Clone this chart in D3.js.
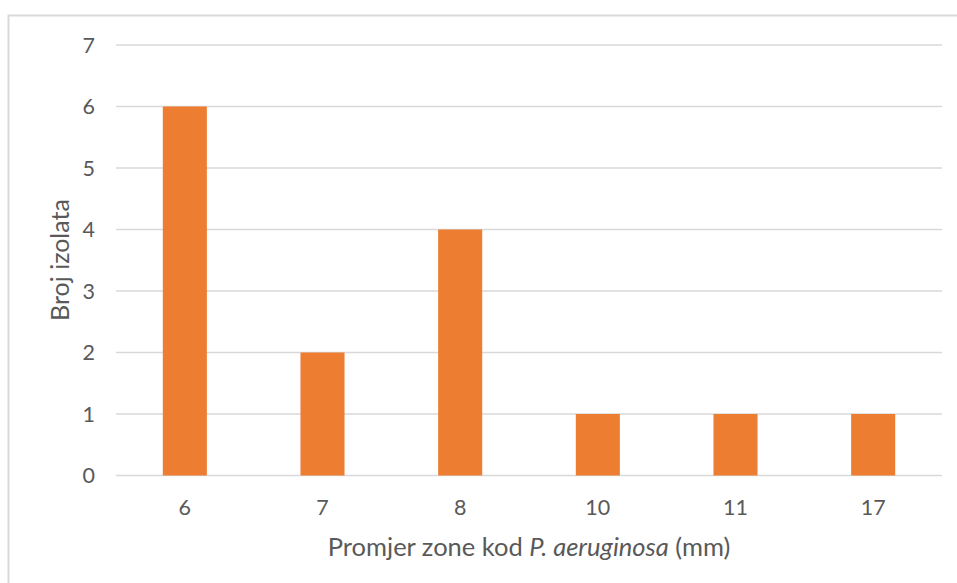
<!DOCTYPE html>
<html><head><meta charset="utf-8">
<script src="https://cdn.jsdelivr.net/npm/d3@7"></script>
<style>
body{margin:0;background:#fff;}
svg{display:block;}
text{font-family:Lato,"Open Sans","Liberation Sans",sans-serif;fill:#595959;}
</style></head>
<body>
<svg id="chart" width="957" height="583"></svg>
<script>
const categories = ["6","7","8","10","11","17"];
const values = [6,2,4,1,1,1];
const yTicks = [0,1,2,3,4,5,6,7];

const svg = d3.select("#chart");
const W = 957, H = 583;
const mLeft = 116, mRight = 942, mTop = 45, mBottom = 475.5;

// outer border (top and left visible)
svg.append("rect").attr("x",8.5).attr("y",15.5).attr("width",W+20).attr("height",H+20)
  .attr("fill","none").attr("stroke","#d9d9d9").attr("stroke-width",2);

const x = d3.scaleBand().domain(categories).range([mLeft,mRight]).paddingInner(0.68).paddingOuter(0.34);
const y = d3.scaleLinear().domain([0,7]).range([mBottom,mTop]);

// gridlines
svg.append("g").selectAll("line").data(yTicks).join("line")
  .attr("x1",mLeft).attr("x2",mRight)
  .attr("y1",d=>y(d)).attr("y2",d=>y(d))
  .attr("stroke","#d9d9d9").attr("stroke-width",1.3);

// y tick labels
svg.append("g").selectAll("text").data(yTicks).join("text")
  .attr("x",95).attr("y",d=>y(d)).attr("dy","0.36em")
  .attr("text-anchor","end").attr("font-size",21.5).text(d=>d);

// bars
svg.append("g").selectAll("rect").data(values).join("rect")
  .attr("x",(d,i)=>x(categories[i])).attr("width",x.bandwidth())
  .attr("y",d=>y(d)).attr("height",d=>y(0)-y(d))
  .attr("fill","#ED7D31");

// x tick labels
svg.append("g").selectAll("text").data(categories).join("text")
  .attr("x",d=>x(d)+x.bandwidth()/2).attr("y",507).attr("dy","0.36em")
  .attr("text-anchor","middle").attr("font-size",21.5).text(d=>d);

// x axis title
const xt = svg.append("text").attr("x",529).attr("y",547).attr("dy","0.36em")
  .attr("text-anchor","middle").attr("font-size",25.5);
xt.append("tspan").text("Promjer zone kod ");
xt.append("tspan").attr("font-style","italic").text("P. aeruginosa");
xt.append("tspan").text(" (mm)");

// y axis title
svg.append("text").attr("transform","translate(60,260) rotate(-90)").attr("dy","0.36em")
  .attr("text-anchor","middle").attr("font-size",25).text("Broj izolata");
</script>
</body></html>
